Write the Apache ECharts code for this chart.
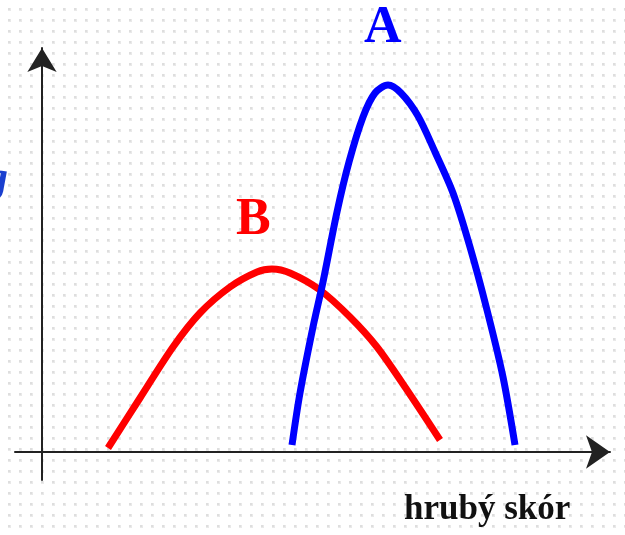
<!DOCTYPE html>
<html>
<head>
<meta charset="utf-8">
<script src="https://cdn.jsdelivr.net/npm/echarts@6/dist/echarts.min.js"></script>
<style>
html,body{margin:0;padding:0;background:#fff;}
#chart{width:625px;height:535px;}
</style>
</head>
<body>
<div id="chart"></div>
<script>
// Curve A (blue) – x positions and heights
const blueX = [250, 258, 271, 281, 295, 307, 321, 333, 346, 359, 376, 393, 411, 428, 445, 461, 473];
const blueY = [7, 59, 125, 170, 240, 290, 335, 359, 367, 359, 336, 300, 259, 205, 142, 75, 7];
// Curve B (red)
const redX = [66, 98, 131, 158, 188, 215, 230, 248, 278, 308, 335, 365, 398];
const redY = [4, 54, 105, 139, 165, 180, 183, 179, 162, 135, 105, 62, 12];
const labelA = 'A';
const labelB = 'B';
const xAxisTitle = 'hrubý skór';
const yAxisFragment = 'g';

const blueData = blueX.map((x, i) => [x, blueY[i]]);
const redData = redX.map((x, i) => [x, redY[i]]);

// dotted paper background
const tile = document.createElement('canvas');
tile.width = 11; tile.height = 11;
const c = tile.getContext('2d');
c.fillStyle = '#ffffff'; c.fillRect(0, 0, 11, 11);
c.fillStyle = '#e9e9e9'; c.fillRect(8, 8, 3, 3);
c.fillStyle = '#dedede'; c.fillRect(8, 8, 2, 2);

const chart = echarts.init(document.getElementById('chart'));
const serif = '"Liberation Serif", "DejaVu Serif", serif';
chart.setOption({
  animation: false,
  backgroundColor: '#ffffff',
  grid: { left: 15, right: 15, top: 48, bottom: 55 },
  xAxis: {
    type: 'value', min: -27, max: 568,
    axisLine: { onZero: true, symbol: ['none', 'arrow'], symbolSize: [25, 24],
      lineStyle: { color: '#222222', width: 2 } },
    axisTick: { show: false }, axisLabel: { show: false }, splitLine: { show: false }
  },
  yAxis: {
    type: 'value', min: -28, max: 404,
    axisLine: { onZero: true, symbol: ['none', 'arrow'], symbolSize: [22, 24],
      lineStyle: { color: '#222222', width: 2 } },
    axisTick: { show: false }, axisLabel: { show: false }, splitLine: { show: false }
  },
  graphic: [
    { type: 'rect', z: -100, silent: true, shape: { x: 0, y: 0, width: 625, height: 535 },
      style: { fill: { image: tile, repeat: 'repeat' } } },
    { type: 'text', left: 364, top: 3, style: { text: labelA, fill: '#0000ff',
      font: 'bold 52px ' + serif } },
    { type: 'text', left: 236, top: 195, style: { text: labelB, fill: '#ff0000',
      font: 'bold 52px ' + serif } },
    { type: 'text', left: 404, top: 492, style: { text: xAxisTitle, fill: '#111111',
      font: 'bold 35px ' + serif } },
    { type: 'text', left: -14, top: 158, style: { text: yAxisFragment, fill: '#1a3fcf',
      font: 'bold italic 44px ' + serif } }
  ],
  series: [
    { type: 'line', name: 'B', data: redData, smooth: 0.3, showSymbol: false,
      lineStyle: { color: '#ff0000', width: 7 }, z: 3 },
    { type: 'line', name: 'A', data: blueData, smooth: 0.3, showSymbol: false,
      lineStyle: { color: '#0000ff', width: 7 }, z: 4 }
  ]
});
</script>
</body>
</html>
